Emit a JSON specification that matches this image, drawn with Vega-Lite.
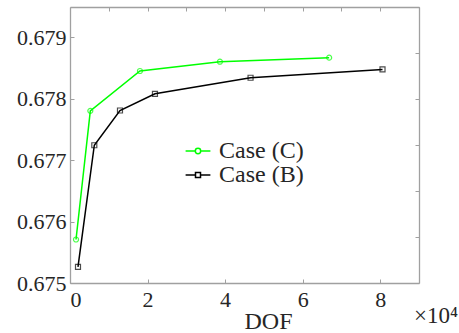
{
  "$schema": "https://vega.github.io/schema/vega-lite/v6.json",
  "width": 349,
  "height": 276,
  "autosize": "none",
  "padding": {"left": 70, "top": 7, "right": 40, "bottom": 50},
  "background": "white",
  "config": {
    "view": {"stroke": null},
    "font": "Liberation Serif",
    "axis": {
      "grid": false,
      "domainColor": "#a0a0a0",
      "domainWidth": 1.3,
      "tickColor": "#a0a0a0",
      "tickWidth": 1,
      "tickSize": -4,
      "labelFont": "Liberation Serif",
      "labelFontSize": 22,
      "labelColor": "#262626",
      "titleFont": "Liberation Serif",
      "titleFontSize": 24,
      "titleFontWeight": "normal",
      "titleColor": "#262626"
    }
  },
  "title": {
    "text": "×10⁴",
    "orient": "bottom",
    "anchor": "end",
    "frame": "group",
    "font": "Liberation Serif",
    "fontSize": 23,
    "fontWeight": "normal",
    "color": "#262626",
    "dx": 39,
    "dy": -32
  },
  "data": {
    "values": [
      {"series": "Case (C)", "dof": 1550, "value": 0.675708},
      {"series": "Case (C)", "dof": 5240, "value": 0.677801},
      {"series": "Case (C)", "dof": 18040, "value": 0.678449},
      {"series": "Case (C)", "dof": 38660, "value": 0.678600},
      {"series": "Case (C)", "dof": 66830, "value": 0.678666},
      {"series": "Case (B)", "dof": 2060, "value": 0.675261},
      {"series": "Case (B)", "dof": 6270, "value": 0.677241},
      {"series": "Case (B)", "dof": 12890, "value": 0.677806},
      {"series": "Case (B)", "dof": 21910, "value": 0.678078},
      {"series": "Case (B)", "dof": 46560, "value": 0.678339},
      {"series": "Case (B)", "dof": 80590, "value": 0.678475}
    ]
  },
  "layer": [
    {
      "layer": [
        {
          "mark": {"type": "line", "strokeWidth": 1.5},
          "encoding": {
            "x": {
              "field": "dof", "type": "quantitative",
              "scale": {"domain": [0, 90000], "nice": false, "zero": false},
              "axis": {
                "values": [0, 10000, 20000, 30000, 40000, 50000, 60000, 70000, 80000, 90000],
                "labelExpr": "datum.value % 20000 === 0 ? format(datum.value / 10000, 'd') : ''",
                "labelPadding": 10,
                "title": "DOF",
                "titleX": 198,
                "titleY": 45,
                "titleAlign": "center",
                "titleBaseline": "alphabetic"
              }
            },
            "y": {
              "field": "value", "type": "quantitative",
              "scale": {"domain": [0.675, 0.67949], "nice": false, "zero": false},
              "axis": {
                "values": [0.675, 0.6755, 0.676, 0.6765, 0.677, 0.6775, 0.678, 0.6785, 0.679],
                "labelExpr": "abs(datum.value * 1000 - round(datum.value * 1000)) < 0.01 ? format(datum.value, '.3f') : ''",
                "labelPadding": 8,
                "title": null
              }
            },
            "color": {
              "field": "series", "type": "nominal",
              "scale": {"domain": ["Case (C)", "Case (B)"], "range": ["#00ff00", "#000000"]},
              "legend": {
                "orient": "none",
                "legendX": 116,
                "legendY": 132,
                "title": null,
                "padding": 0,
                "symbolSize": 400,
                "symbolStrokeWidth": 1.5,
                "labelFont": "Liberation Serif",
                "labelFontSize": 24,
                "labelColor": "#262626",
                "labelOffset": 9,
                "rowPadding": -6,
                "encode": {
                  "symbols": {
                    "update": {
                      "shape": {"signal": "datum.value === 'Case (C)' ? 'M-1.24,0H-0.27M0.27,0H1.24M-0.27,0A0.27,0.27 0 1,1 0.27,0A0.27,0.27 0 1,1 -0.27,0Z' : 'M-1.24,0H-0.25M0.25,0H1.24M-0.25,-0.25H0.25V0.25H-0.25Z'"},
                      "fill": {"value": "transparent"}
                    }
                  }
                }
              }
            }
          }
        },
        {
          "transform": [{"filter": "datum.series === 'Case (C)'"}],
          "mark": {"type": "point", "shape": "circle", "filled": false, "strokeWidth": 1.2, "size": 25, "color": "#00ff00"},
          "encoding": {
            "x": {"field": "dof", "type": "quantitative"},
            "y": {"field": "value", "type": "quantitative"}
          }
        },
        {
          "transform": [{"filter": "datum.series === 'Case (B)'"}],
          "mark": {"type": "point", "shape": "square", "filled": false, "strokeWidth": 1.2, "size": 25, "color": "#000000"},
          "encoding": {
            "x": {"field": "dof", "type": "quantitative"},
            "y": {"field": "value", "type": "quantitative"}
          }
        }
      ]
    },
    {
      "mark": {"type": "point", "opacity": 0},
      "encoding": {
        "x": {
          "datum": 0, "type": "quantitative",
          "axis": {
            "orient": "top",
            "values": [0, 10000, 20000, 30000, 40000, 50000, 60000, 70000, 80000, 90000],
            "labels": false,
            "title": null
          }
        },
        "y": {
          "datum": 0, "type": "quantitative",
          "scale": {"domain": [0, 6], "nice": false, "zero": false},
          "axis": {
            "orient": "right",
            "values": [0, 1, 2, 3, 4, 5, 6],
            "labels": false,
            "title": null
          }
        }
      }
    }
  ],
  "resolve": {"scale": {"y": "independent"}, "axis": {"x": "independent", "y": "independent"}}
}
